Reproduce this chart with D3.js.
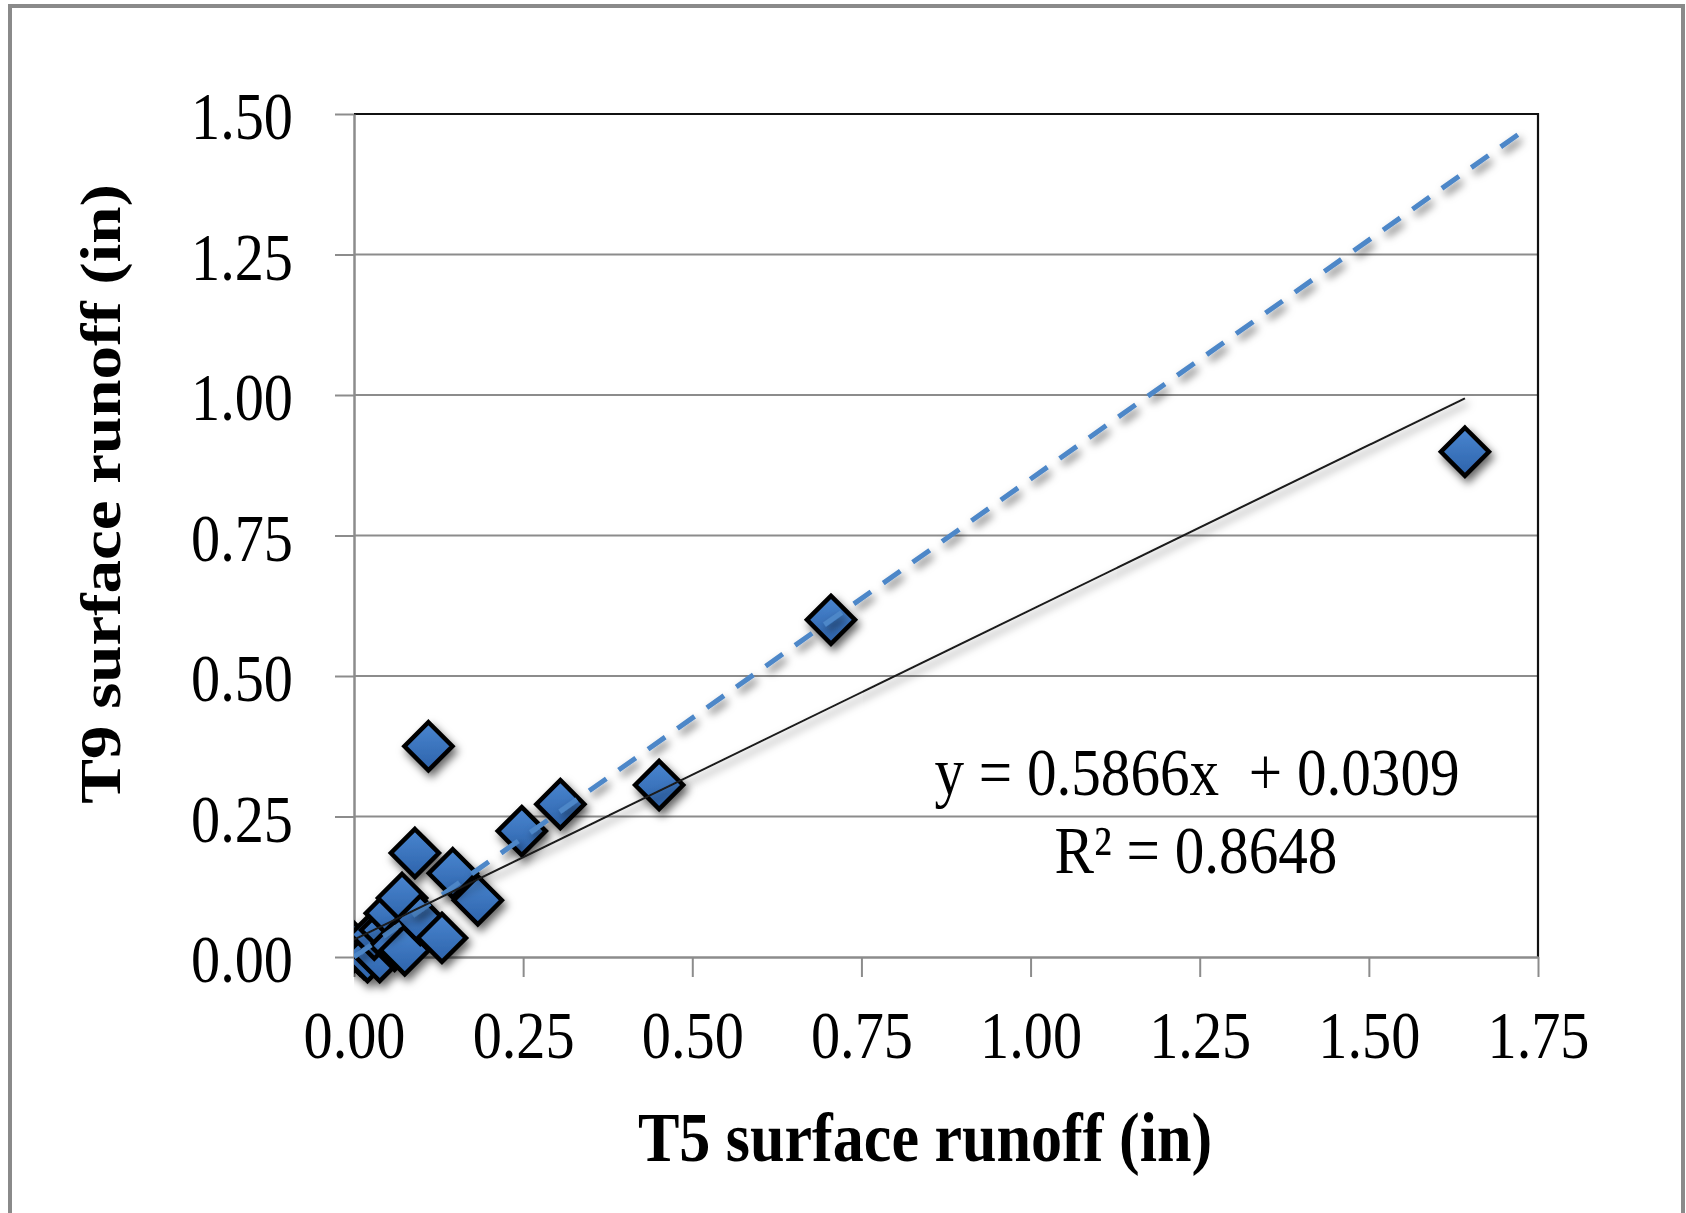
<!DOCTYPE html>
<html>
<head>
<meta charset="utf-8">
<script src="https://cdn.jsdelivr.net/npm/d3@7"></script>
<style>
  html, body { margin: 0; padding: 0; background: #fff; }
  svg { display: block; }
  text { font-family: "Liberation Serif", "Times New Roman", serif; fill: #000; }
</style>
</head>
<body>
<svg id="chart"></svg>
<script>
// values
const t5Runoff = [0.000, 0.009, 0.015, 0.020, 0.038, 0.030, 0.046, 0.053, 0.060, 0.071,
                  0.075, 0.098, 0.130, 0.090, 0.110, 0.146, 0.183, 0.248, 0.305, 0.451,
                  0.705, 1.642];
const t9Runoff = [0.018, 0.012, 0.005, 0.000, 0.000, 0.040, 0.048, 0.078, 0.020, 0.105,
                  0.012, 0.066, 0.034, 0.185, 0.375, 0.149, 0.101, 0.224, 0.272, 0.306,
                  0.600, 0.899];

// linear trendline shown on the chart
const trendSlope = 0.5866;
const trendIntercept = 0.0309;
const trendR2 = 0.8648;

// dashed reference line end points
const refLineX = [0, 1.726];
const refLineY = [0, 1.468];

const xTicks = [0, 0.25, 0.5, 0.75, 1.0, 1.25, 1.5, 1.75];
const yTicks = [0, 0.25, 0.5, 0.75, 1.0, 1.25, 1.5];

const xLabelText = "T5 surface runoff (in)";
const yLabelText = "T9 surface runoff (in)";

const W = 1686, H = 1213;
const margin = {top: 114, right: 148, bottom: 256, left: 354};
const width = W - margin.left - margin.right;
const height = H - margin.top - margin.bottom;
const squeeze = 0.87; // the text in the picture is a bit narrow

const svg = d3.select("#chart").attr("width", W).attr("height", H);

const defs = svg.append("defs");
const shadow = defs.append("filter").attr("id", "shadow")
    .attr("filterUnits", "userSpaceOnUse")
    .attr("x", 0).attr("y", 0).attr("width", W).attr("height", H);
shadow.append("feDropShadow")
    .attr("dx", 3).attr("dy", 5).attr("stdDeviation", 4)
    .attr("flood-color", "#000").attr("flood-opacity", 0.6);

const grad = defs.append("linearGradient").attr("id", "markerFill")
    .attr("x1", 0).attr("y1", 0).attr("x2", 0).attr("y2", 1);
grad.append("stop").attr("offset", "0%").attr("stop-color", "#4a86d0");
grad.append("stop").attr("offset", "100%").attr("stop-color", "#2d63ab");

// outer frame
svg.append("rect")
    .attr("x", 10).attr("y", 6).attr("width", 1673).attr("height", 1300)
    .attr("fill", "none").attr("stroke", "#8a8a8a").attr("stroke-width", 4);

const chart = svg.append("g").attr("transform", `translate(${margin.left},${margin.top})`);

const xScale = d3.scaleLinear().domain([0, 1.75]).range([0, width]);
const yScale = d3.scaleLinear().domain([0, 1.5]).range([height, 0]);

// horizontal gridlines
chart.append("g")
    .selectAll("line")
    .data(yTicks.filter(d => d > 0 && d < 1.5))
    .join("line")
    .attr("x1", 0).attr("x2", width)
    .attr("y1", d => yScale(d)).attr("y2", d => yScale(d))
    .attr("stroke", "#8c8c8c").attr("stroke-width", 2);

// plot border (top and right in black)
chart.append("path")
    .attr("d", `M0,${yScale(1.5)}H${width}V${height}`)
    .attr("fill", "none").attr("stroke", "#111").attr("stroke-width", 2.2);

// axes
const xAxis = d3.axisBottom(xScale).tickValues(xTicks).tickSize(20).tickSizeOuter(0)
    .tickFormat(d3.format(".2f"));
const yAxis = d3.axisLeft(yScale).tickValues(yTicks).tickSize(19).tickSizeOuter(0)
    .tickFormat(d3.format(".2f"));

const xAxisG = chart.append("g")
    .attr("transform", `translate(0,${height})`)
    .call(xAxis);
const yAxisG = chart.append("g").call(yAxis);

[xAxisG, yAxisG].forEach(g => {
  g.select(".domain").attr("stroke", "#8c8c8c").attr("stroke-width", 2.5);
  g.selectAll(".tick line").attr("stroke", "#8c8c8c").attr("stroke-width", 2);
  g.selectAll(".tick text")
    .style("font-size", "67px")
    .attr("fill", "#000");
});

xAxisG.selectAll(".tick text")
    .attr("y", 101).attr("dy", 0)
    .attr("transform", `scale(${squeeze},1)`);

yAxisG.selectAll(".tick text")
    .attr("x", -61 / squeeze).attr("dy", "0.366em")
    .attr("transform", `scale(${squeeze},1)`);

// axis titles
svg.append("text")
    .attr("transform", `translate(925,1161) scale(0.9,1)`)
    .attr("text-anchor", "middle")
    .style("font-size", "69px").style("font-weight", "bold")
    .text(xLabelText);

svg.append("text")
    .attr("transform", `translate(120,494) scale(0.84,1) rotate(-90)`)
    .attr("text-anchor", "middle")
    .style("font-size", "67px").style("font-weight", "bold")
    .text(yLabelText);

// markers
const diamond = {
  draw(context, size) {
    const r = Math.sqrt(size / 2);
    context.moveTo(0, -r);
    context.lineTo(r, 0);
    context.lineTo(0, r);
    context.lineTo(-r, 0);
    context.closePath();
  }
};
const points = t5Runoff.map((x, i) => ({x: x, y: t9Runoff[i]}));

chart.append("g")
    .attr("filter", "url(#shadow)")
    .selectAll("path")
    .data(points)
    .join("path")
    .attr("d", d3.symbol().type(diamond).size(1150))
    .attr("transform", d => `translate(${xScale(d.x)},${yScale(d.y)})`)
    .attr("fill", "url(#markerFill)")
    .attr("stroke", "#000").attr("stroke-width", 4.5)
    .attr("stroke-linejoin", "miter");

// dashed reference line
const line = d3.line().x(d => xScale(d[0])).y(d => yScale(d[1]));
chart.append("path")
    .datum(refLineX.map((x, i) => [x, refLineY[i]]))
    .attr("d", line)
    .attr("fill", "none")
    .attr("stroke", "#4d87c8").attr("stroke-width", 5)
    .attr("stroke-dasharray", "21,15")
    .attr("filter", "url(#shadow)");

// linear trendline
const xMin = d3.min(t5Runoff), xMax = d3.max(t5Runoff);
chart.append("path")
    .datum([xMin, xMax].map(x => [x, trendSlope * x + trendIntercept]))
    .attr("d", line)
    .attr("fill", "none")
    .attr("stroke", "#1a1a1a").attr("stroke-width", 2)
    .attr("filter", "url(#shadow)");

// equation label
const eq = svg.append("text")
    .attr("text-anchor", "middle")
    .style("font-size", "68px")
    .style("white-space", "pre");
eq.append("tspan")
    .attr("x", 1197 / squeeze).attr("y", 795)
    .text(`y = ${trendSlope}x  + ${trendIntercept}`);
eq.append("tspan")
    .attr("x", 1196 / squeeze).attr("y", 873)
    .text(`R² = ${trendR2}`);
eq.attr("transform", `scale(${squeeze},1)`);
</script>
</body>
</html>
